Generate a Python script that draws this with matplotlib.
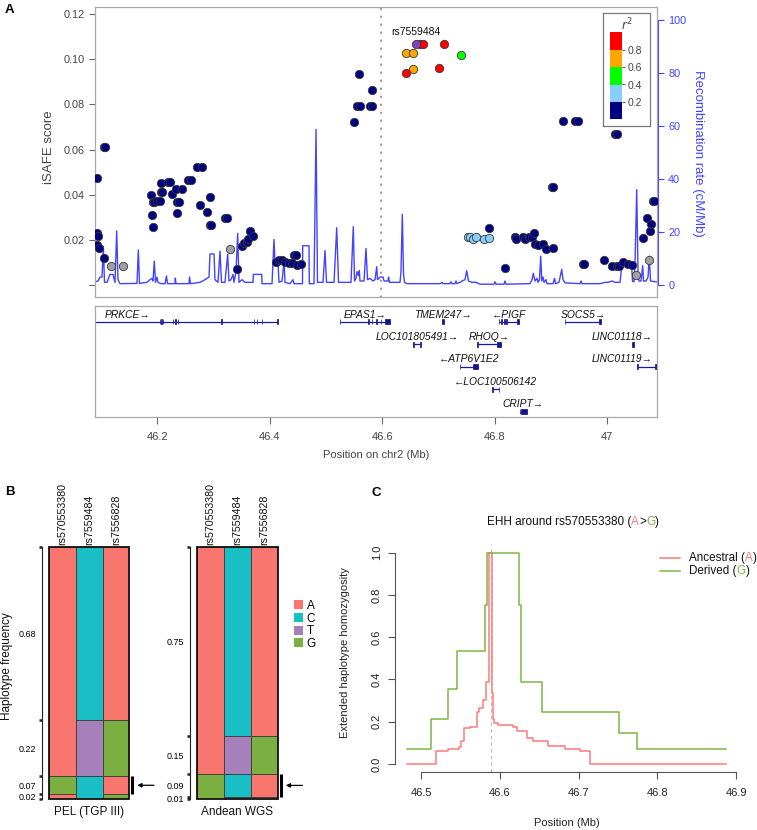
import numpy as np
import matplotlib
matplotlib.use("Agg")
import matplotlib.pyplot as plt
from matplotlib.patches import Rectangle
from matplotlib.lines import Line2D
from matplotlib.offsetbox import TextArea, HPacker, AnchoredOffsetbox

plt.rcParams["font.family"] = ["Liberation Sans", "DejaVu Sans"]

W, H = 757, 830

# ---------------- panel A data ----------------
# iSAFE scores by LD bin with the lead SNP (r^2)
pos_ld0 = [46.0929, 46.1052, 46.1060, 46.0929, 46.0947, 46.0929, 46.0959, 46.1052,
           46.1884, 46.1897, 46.1915, 46.1915, 46.1943, 46.1986, 46.2045, 46.2062, 46.2062, 46.2086,
           46.2192, 46.2223, 46.2264, 46.2324, 46.2431, 46.2352, 46.2383, 46.2352, 46.2538, 46.2596,
           46.2708, 46.2797, 46.2756, 46.2886, 46.2934, 46.2934, 46.2952, 46.3201, 46.3242, 46.3409,
           46.3498, 46.3539, 46.3587, 46.3605, 46.3646, 46.3705,
           46.4103, 46.4167, 46.4210, 46.4269, 46.4340, 46.4388, 46.4429, 46.4459, 46.4477, 46.4548,
           46.5502, 46.5545, 46.5603, 46.5586, 46.5781, 46.5812, 46.5812,
           46.7899, 46.8184, 46.8362, 46.8379, 46.8509, 46.8539, 46.8616, 46.8659, 46.8705, 46.8717,
           46.8776, 46.8854, 46.8913, 46.9043, 46.9025, 46.9043, 46.9210, 46.9429, 46.9488, 46.9566,
           46.9595, 46.9951, 47.0093, 47.0171, 47.0212, 47.0289, 47.0378, 47.0438, 47.0141, 47.0182,
           47.0645, 47.0705, 47.0776, 47.0764, 47.0812, 47.0835]
isafe_ld0 = [0.0475, 0.0610, 0.0610, 0.0232, 0.0217, 0.0177, 0.0163, 0.0118,
             0.0399, 0.0310, 0.0258, 0.0369, 0.0369, 0.0373, 0.0373, 0.0450, 0.0413, 0.0413,
             0.0456, 0.0456, 0.0402, 0.0424, 0.0424, 0.0369, 0.0369, 0.0320, 0.0465, 0.0465,
             0.0521, 0.0521, 0.0356, 0.0325, 0.0391, 0.0266, 0.0266, 0.0295, 0.0295, 0.0070,
             0.0174, 0.0185, 0.0192, 0.0202, 0.0240, 0.0218,
             0.0103, 0.0111, 0.0111, 0.0103, 0.0096, 0.0096, 0.0133, 0.0133, 0.0089, 0.0093,
             0.0723, 0.0794, 0.0794, 0.0933, 0.0794, 0.0794, 0.0862,
             0.0251, 0.0074, 0.0214, 0.0202, 0.0214, 0.0202, 0.0214, 0.0214, 0.0229, 0.0180,
             0.0176, 0.0180, 0.0158, 0.0163, 0.0434, 0.0434, 0.0728, 0.0728, 0.0728, 0.0093,
             0.0093, 0.0111, 0.0085, 0.0085, 0.0085, 0.0101, 0.0093, 0.0090, 0.0670, 0.0670,
             0.0207, 0.0298, 0.0269, 0.0239, 0.0372, 0.0372]
pos_ld1 = [46.7520, 46.7561, 46.7620, 46.7668, 46.7815, 46.7904]
isafe_ld1 = [0.0214, 0.0214, 0.0202, 0.0214, 0.0202, 0.0209]
pos_ld2 = [46.7395]
isafe_ld2 = [0.1019]
pos_ld3 = [46.6417, 46.6541, 46.6541]
isafe_ld3 = [0.1026, 0.1026, 0.0957]
pos_ld4 = [46.6671, 46.6719, 46.7098, 46.6417, 46.7015]
isafe_ld4 = [0.1066, 0.1066, 0.1066, 0.0940, 0.0962]
pos_na = [46.1173, 46.1392, 46.3290, 47.0515, 47.0751]
isafe_na = [0.0084, 0.0084, 0.0159, 0.0043, 0.0111]
lead_name = "rs7559484"
lead_pos = 46.6595
lead_isafe = 0.1066
marker_pos = 46.5977

ld_breaks = [0.2, 0.4, 0.6, 0.8]
ld_colors = ["#000080", "#87CEFA", "#00FF00", "#FFA500", "#FF0000"]

recomb_pos = [46.0888, 46.0941, 46.0977, 46.1013, 46.1036, 46.1057, 46.1102, 46.1155, 46.1208, 46.1244,
              46.1274, 46.1297, 46.1333, 46.1635, 46.1659, 46.1680, 46.1813, 46.1867, 46.1902, 46.1920,
              46.1943, 46.1965, 46.1991, 46.2009, 46.2062, 46.2134, 46.2160, 46.2178, 46.2312, 46.2317,
              46.2329, 46.2561, 46.2570, 46.2587, 46.2756, 46.2845, 46.2917, 46.2934, 46.3006, 46.3023,
              46.3077, 46.3112, 46.3139, 46.3201, 46.3249, 46.3272, 46.3308, 46.3344, 46.3361, 46.3397,
              46.3427, 46.3450, 46.3504, 46.3557, 46.3700, 46.3705, 46.3854, 46.3860, 46.4038, 46.4073,
              46.4091, 46.4144, 46.4162, 46.4216, 46.4251, 46.4269, 46.4358, 46.4411, 46.4429, 46.4580,
              46.4584, 46.4696, 46.4701, 46.4785, 46.4821, 46.4847, 46.4945, 46.4981, 46.5007, 46.5141,
              46.5189, 46.5221, 46.5443, 46.5484, 46.5506, 46.5532, 46.5550, 46.5577, 46.5591, 46.5603,
              46.5675, 46.5710, 46.5737, 46.5781, 46.5835, 46.5870, 46.5901, 46.5915, 46.5959, 46.6013,
              46.6031, 46.6102, 46.6111, 46.6128, 46.6315, 46.6333, 46.6356, 46.6378, 46.6395, 46.6440,
              46.7027, 46.7063, 46.7080, 46.7205, 46.7223, 46.7241, 46.7294, 46.7312, 46.7329, 46.7383,
              46.7418, 46.7472, 46.7502, 46.7534, 46.7596, 46.7668, 46.7739, 46.7988, 46.8006, 46.8023,
              46.8166, 46.8184, 46.8201, 46.8628, 46.8664, 46.8687, 46.8717, 46.8753, 46.8771, 46.8797,
              46.8819, 46.8838, 46.8860, 46.8878, 46.8913, 46.8931, 46.9038, 46.9064, 46.9082, 46.9144,
              46.9193, 46.9216, 46.9251, 46.9518, 46.9536, 46.9554, 46.9874, 46.9963, 47.0016, 47.0088,
              47.0141, 47.0230, 47.0260, 47.0438, 47.0452, 47.0479, 47.0497, 47.0527, 47.0550, 47.0568,
              47.0604, 47.0634, 47.0648, 47.0693, 47.0728, 47.0751, 47.0773, 47.0870, 47.0888]
recomb_rate = [1.2, 1.5, 3.0, 3.0, 14.5, 1.0, 1.0, 4.0, 4.0, 1.0,
               20.4, 2.0, 0.5, 0.6, 13.2, 0.6, 1.0, 2.0, 2.5, 1.5,
               9.0, 1.0, 3.0, 1.0, 0.5, 0.5, 3.4, 0.5, 0.5, 2.6,
               0.5, 0.5, 3.0, 0.5, 1.0, 2.0, 3.0, 11.7, 11.7, 2.0,
               1.0, 12.8, 1.0, 1.0, 11.6, 1.5, 2.0, 4.0, 1.0, 5.0,
               19.5, 1.0, 2.0, 1.0, 1.0, 4.0, 4.0, 0.5, 0.5, 17.2,
               8.0, 8.3, 1.0, 1.5, 8.8, 1.0, 0.5, 2.0, 0.5, 0.5,
               14.8, 14.8, 0.5, 0.5, 58.7, 1.0, 1.0, 13.0, 1.0, 1.0,
               21.6, 1.0, 1.0, 22.0, 1.5, 2.5, 5.0, 3.5, 5.4, 1.5,
               1.5, 13.8, 2.0, 2.5, 1.5, 2.0, 6.9, 2.0, 3.0, 3.0,
               1.5, 1.5, 3.0, 1.0, 1.0, 5.0, 26.7, 4.0, 1.0, 0.5,
               0.5, 1.0, 0.5, 0.5, 1.2, 0.5, 0.5, 1.5, 0.5, 1.0,
               1.5, 2.0, 5.4, 1.5, 1.0, 1.0, 0.3, 0.3, 1.2, 0.3,
               0.3, 1.5, 0.3, 0.5, 2.0, 4.4, 1.5, 2.5, 1.0, 2.0,
               10.9, 1.5, 3.0, 1.0, 2.0, 0.5, 0.5, 2.5, 0.5, 1.0,
               5.9, 2.0, 0.8, 0.5, 1.5, 0.5, 0.5, 1.0, 1.0, 1.5,
               1.0, 1.0, 6.9, 6.9, 1.5, 1.2, 8.0, 36.0, 5.0, 1.5,
               1.5, 7.3, 1.5, 1.5, 3.0, 10.9, 1.5, 1.2, 1.2]

# gene track
gene_names = ["PRKCE", "EPAS1", "TMEM247", "PIGF", "SOCS5", "LOC101805491", "RHOQ", "LINC01118",
              "ATP6V1E2", "LINC01119", "LOC100506142", "CRIPT"]
gene_start = [45.879, 46.5248, 46.7068, 46.8077, 46.9251, 46.6552, 46.7691, 47.0449,
              46.7383, 47.0538, 46.7958, 46.8451]
gene_end = [46.4150, 46.6137, 46.7104, 46.8433, 46.9892, 46.6684, 46.8107, 47.0484,
            46.7698, 47.0950, 46.8077, 46.8570]
gene_strand = ["+", "+", "+", "-", "+", "+", "+", "+", "-", "+", "-", "+"]
gene_row = [0, 0, 0, 0, 0, 1, 1, 1, 2, 2, 3, 4]
gene_exons = [
    [(46.2040, 46.2050), (46.2066, 46.2076), (46.2093, 46.2103), (46.2271, 46.2281), (46.2315, 46.2325),
     (46.2360, 46.2370), (46.3138, 46.3148), (46.3712, 46.3722), (46.3766, 46.3776), (46.3855, 46.3865),
     (46.4125, 46.4150)],
    [(46.5245, 46.5253), (46.5746, 46.5756), (46.5812, 46.5822), (46.5896, 46.5906), (46.5972, 46.5982),
     (46.6040, 46.6137)],
    [(46.7068, 46.7104)],
    [(46.8077, 46.8085), (46.8121, 46.8129), (46.8167, 46.8175), (46.8210, 46.8218), (46.8392, 46.8433)],
    [(46.9251, 46.9259), (46.9857, 46.9892)],
    [(46.6552, 46.6560), (46.6676, 46.6684)],
    [(46.7691, 46.7699), (46.8036, 46.8107)],
    [(47.0449, 47.0484)],
    [(46.7383, 46.7391), (46.7620, 46.7698)],
    [(47.0538, 47.0546), (47.0850, 47.0890)],
    [(46.7958, 46.7966), (46.8069, 46.8077)],
    [(46.8451, 46.8459), (46.8475, 46.8570)],
]

# ---------------- panel B data ----------------
hap_snps = ["rs570553380", "rs7559484", "rs7556828"]
pel_freq = [0.68, 0.22, 0.07, 0.02]
pel_haps = ["ACA", "ATG", "GCA", "ACG"]
andean_freq = [0.75, 0.15, 0.09, 0.01]
andean_haps = ["ACA", "ATG", "GCA", "GTG"]
alleles = ["A", "C", "T", "G"]
allele_colors = {"A": "#F8766D", "C": "#19BFC4", "T": "#A680BB", "G": "#7CAF42"}

# ---------------- panel C data ----------------
core_pos = 46.5882
anc_pos = [46.4822, 46.5183, 46.5343, 46.5479, 46.5501, 46.5543, 46.5619, 46.5704, 46.5733, 46.5788,
           46.5822, 46.5864, 46.5895, 46.5915, 46.5930, 46.5979, 46.6166, 46.6213, 46.6340, 46.6420,
           46.6610, 46.6826, 46.7017, 46.7144, 46.8873]
anc_ehh = [0.000, 0.063, 0.070, 0.082, 0.109, 0.169, 0.177, 0.248, 0.265, 0.303,
           0.390, 1.000, 0.335, 0.213, 0.195, 0.185, 0.175, 0.156, 0.123, 0.109,
           0.085, 0.071, 0.063, 0.000, 0.000]
der_pos = [46.4822, 46.5123, 46.5343, 46.5454, 46.5810, 46.5831, 46.6246, 46.6271, 46.6538, 46.7517,
           46.7738, 46.8873]
der_ehh = [0.070, 0.213, 0.357, 0.535, 0.750, 1.000, 0.750, 0.390, 0.248, 0.145, 0.071, 0.071]

BOX_GREY = "#A8A8A8"
TXT_GREY = "#444444"
REC_BLUE = "#4343FF"
ANC_RED = "#FF7B7B"
DER_GREEN = "#7DB548"


def fig_box(x0, y0, x1, y1):
    # pixel box with top-left origin -> [left, bottom, width, height] in figure fraction
    return [x0 / W, 1 - y1 / H, (x1 - x0) / W, (y1 - y0) / H]


def fx(x):
    return x / W


def fy(y):
    return 1 - y / H


def color_text(fig, x, y, parts, size, loc):
    areas = [TextArea(s, textprops=dict(color=c, size=size)) for s, c in parts]
    box = HPacker(children=areas, align="baseline", pad=0, sep=0)
    anchored = AnchoredOffsetbox(loc=loc, child=box, pad=0, borderpad=0, frameon=False,
                                 bbox_to_anchor=(fx(x), fy(y)), bbox_transform=fig.transFigure)
    fig.add_artist(anchored)


fig = plt.figure(figsize=(W / 100, H / 100), dpi=100)

# ================= panel A: iSAFE + recombination =================
xlim_a = (46.0888, 47.0888)
ax_rec = fig.add_axes(fig_box(95, 7, 657, 297))
ax_sc = ax_rec.twinx()

ax_rec.plot(recomb_pos, recomb_rate, color=REC_BLUE, lw=1.0)
ax_rec.set_xlim(*xlim_a)
ax_rec.set_ylim(-4.53, 104.9)
ax_rec.yaxis.tick_right()
ax_rec.set_yticks([0, 20, 40, 60, 80, 100])
ax_rec.set_xticks([])
ax_rec.tick_params(axis="y", colors=REC_BLUE, length=4.3, width=0.8, labelsize=7.8, pad=3)
for side in ["top", "bottom", "left"]:
    ax_rec.spines[side].set_visible(False)
ax_rec.spines["right"].set_color(REC_BLUE)
ax_rec.spines["right"].set_bounds(0, 100)
ax_rec.spines["right"].set_position(("outward", 0.8))

ax_sc.yaxis.tick_left()
ax_sc.set_xlim(*xlim_a)
ax_sc.set_ylim(-0.00531, 0.12312)
ax_sc.set_yticks([0, 0.02, 0.04, 0.06, 0.08, 0.10, 0.12])
ax_sc.set_yticklabels(["", "0.02", "0.04", "0.06", "0.08", "0.10", "0.12"])
ax_sc.tick_params(axis="y", colors="#666666", labelcolor=TXT_GREY, length=4.3, width=0.8,
                  labelsize=7.8, pad=3)
for side in ax_sc.spines:
    ax_sc.spines[side].set_color(BOX_GREY)
    ax_sc.spines[side].set_linewidth(0.9)
ax_sc.axvline(marker_pos, color="#9A9A9A", lw=1.6, linestyle=(0, (0.2, 3.4)),
              dash_capstyle="round", zorder=1)

sc_kw = dict(s=36, edgecolors="#3A3A3A", linewidths=0.6, zorder=3)
ax_sc.scatter(pos_na, isafe_na, color="#A0A0A0", **sc_kw)
ax_sc.scatter(pos_ld0, isafe_ld0, color=ld_colors[0], **sc_kw)
ax_sc.scatter(pos_ld1, isafe_ld1, color=ld_colors[1], **sc_kw)
ax_sc.scatter(pos_ld2, isafe_ld2, color=ld_colors[2], **sc_kw)
ax_sc.scatter(pos_ld3, isafe_ld3, color=ld_colors[3], **sc_kw)
ax_sc.scatter(pos_ld4, isafe_ld4, color=ld_colors[4], **sc_kw)
ax_sc.scatter([lead_pos], [lead_isafe], color="#8040C0", **sc_kw)
ax_sc.annotate(lead_name, (lead_pos, lead_isafe), xytext=(0, 5.5), textcoords="offset points",
               ha="center", va="bottom", fontsize=7.5, color="#111111")

fig.text(fx(49), fy(147), "iSAFE score", rotation=90, ha="center", va="center",
         fontsize=9.5, color=TXT_GREY)
fig.text(fx(698), fy(153), "Recombination rate (cM/Mb)", rotation=270, ha="center",
         va="center", fontsize=9.5, color=REC_BLUE)

# r^2 legend
ax_leg = fig.add_axes(fig_box(603.3, 13.3, 650, 125.7))
ax_leg.set_xticks([])
ax_leg.set_yticks([])
for side in ax_leg.spines:
    ax_leg.spines[side].set_color("#7A7A7A")
    ax_leg.spines[side].set_linewidth(0.9)
ax_leg.text(0.5, 0.895, "$r^2$", transform=ax_leg.transAxes, ha="center", va="center",
            fontsize=8.5, color=TXT_GREY)
ax_cb = fig.add_axes(fig_box(610, 32.3, 621.7, 119.3))
edges = [0.0] + ld_breaks + [1.0]
for k, col in enumerate(ld_colors):
    ax_cb.bar(0, edges[k + 1] - edges[k], bottom=edges[k], width=1, align="edge", color=col,
              edgecolor="none")
ax_cb.set_xlim(0, 1)
ax_cb.set_ylim(0, 1)
ax_cb.set_xticks([])
ax_cb.yaxis.tick_right()
ax_cb.set_yticks(ld_breaks)
ax_cb.set_yticklabels([f"{b:.1f}" for b in ld_breaks])
ax_cb.tick_params(axis="y", length=2.5, width=0.7, colors="#555555", labelcolor=TXT_GREY,
                  labelsize=7.5, pad=1.5)
for side in ax_cb.spines:
    ax_cb.spines[side].set_visible(False)

# gene track
row_h = 0.22
ax_gene = fig.add_axes(fig_box(95, 306, 657, 417))
ax_gene.set_xlim(*xlim_a)
ax_gene.set_ylim(-4.236, 0.698)
ax_gene.set_yticks([])
ax_gene.set_xticks([46.2, 46.4, 46.6, 46.8, 47.0])
ax_gene.set_xticklabels(["46.2", "46.4", "46.6", "46.8", "47"])
ax_gene.tick_params(axis="x", length=5, width=0.8, colors="#666666", labelcolor=TXT_GREY,
                    labelsize=8, pad=5.5)
for side in ax_gene.spines:
    ax_gene.spines[side].set_color(BOX_GREY)
    ax_gene.spines[side].set_linewidth(0.9)

gene_labels = []
for name, s, e, strand, row, exons in zip(gene_names, gene_start, gene_end, gene_strand,
                                          gene_row, gene_exons):
    y = -row
    ax_gene.plot([s, e], [y, y], color="#1A1AA0", lw=0.9, solid_capstyle="butt")
    ax_gene.broken_barh([(a, b - a) for a, b in exons], (y - row_h / 2, row_h),
                        facecolors="#10108A", edgecolors="#10108A", linewidth=0.5)
    label = f"{name}\u2192" if strand == "+" else f"\u2190{name}"
    t = ax_gene.text((s + e) / 2, y + 0.32, label, ha="center", va="center", fontsize=7.4,
                     style="italic", color="#111111")
    gene_labels.append(t)

fig.canvas.draw()
renderer = fig.canvas.get_renderer()
gbox = ax_gene.get_window_extent(renderer)
for t in gene_labels:
    bb = t.get_window_extent(renderer)
    shift = 0.0
    if bb.x1 > gbox.x1 - 4:
        shift = (gbox.x1 - 4) - bb.x1
    elif bb.x0 < gbox.x0 + 4:
        shift = (gbox.x0 + 4) - bb.x0
    if shift:
        cx, cy = ax_gene.transData.transform(t.get_position())
        t.set_position(ax_gene.transData.inverted().transform((cx + shift, cy)))

fig.text(fx(376), fy(455), "Position on chr2 (Mb)", ha="center", va="center", fontsize=8,
         color=TXT_GREY)

# ================= panel B: haplotype frequencies =================


def draw_haplotypes(ax, freqs, haps, title):
    total = sum(freqs)
    starts = np.concatenate([[0.0], np.cumsum(freqs)[:-1]])
    for j in range(len(hap_snps)):
        k = 0
        while k < len(haps):
            allele = haps[k][j]
            m = k
            while m + 1 < len(haps) and haps[m + 1][j] == allele:
                m += 1
            ax.bar(j, sum(freqs[k:m + 1]), bottom=starts[k], width=1, align="edge",
                   color=allele_colors[allele], edgecolor="#3A3A3A", linewidth=0.6)
            k = m + 1
        ax.annotate(hap_snps[j], (j + 0.5, 0), xytext=(0, 1.5), textcoords="offset points",
                    rotation=90, ha="center", va="bottom", fontsize=7.7, color="#111111")
    ax.set_xlim(0, len(hap_snps))
    ax.set_ylim(total, 0)
    ax.set_xticks([])
    bounds = list(starts) + [total]
    mids = [st + f / 2 for st, f in zip(starts, freqs)]
    ax.set_yticks(bounds)
    ax.set_yticklabels([])
    ax.set_yticks(mids, minor=True)
    ax.set_yticklabels([f"{f:.2f}" for f in freqs], minor=True)
    ax.tick_params(axis="y", which="major", length=2.2, width=1.8, colors="#222222")
    ax.tick_params(axis="y", which="minor", length=0, labelsize=6.5, pad=4.2)
    for side in ["top", "right", "bottom"]:
        ax.spines[side].set_visible(False)
    ax.spines["left"].set_position(("outward", 5.2))
    ax.spines["left"].set_color("#222222")
    ax.spines["left"].set_bounds(0, total)
    ax.add_patch(Rectangle((0, 0), 1, 1, transform=ax.transAxes, fill=False, lw=1.3,
                           edgecolor="#111111", clip_on=False, zorder=5))
    ax.annotate(title, (len(hap_snps) / 2, total), xytext=(0, -4.5), textcoords="offset points",
                ha="center", va="top", fontsize=8.5, color="#111111", annotation_clip=False)
    # bracket and arrow for the third haplotype
    y0, y1 = starts[2], starts[2] + freqs[2]
    ax.plot([3.11, 3.11], [y0, y1], color="black", lw=2.2, clip_on=False,
            solid_capstyle="butt")
    ax.annotate("", xy=(3.3, (y0 + y1) / 2), xytext=(3.92, (y0 + y1) / 2),
                arrowprops=dict(arrowstyle="-|>", color="black", lw=0.9, mutation_scale=6,
                                shrinkA=0, shrinkB=0), annotation_clip=False)


ax_pel = fig.add_axes(fig_box(49, 546.7, 129.3, 799.3))
draw_haplotypes(ax_pel, pel_freq, pel_haps, "PEL (TGP III)")
ax_and = fig.add_axes(fig_box(197, 546.7, 277.7, 799.3))
draw_haplotypes(ax_and, andean_freq, andean_haps, "Andean WGS")

fig.text(fx(7), fy(666), "Haplotype frequency", rotation=90, ha="center", va="center",
         fontsize=8.5, color="#111111")

handles = [Rectangle((0, 0), 1, 1, facecolor=allele_colors[a], edgecolor="none") for a in alleles]
fig.legend(handles, alleles, loc="upper left", bbox_to_anchor=(fx(293.5), fy(600)),
           bbox_transform=fig.transFigure, frameon=False, fontsize=8.5, handlelength=0.78,
           handleheight=0.78, handletextpad=0.35, labelspacing=0.05, borderpad=0,
           borderaxespad=0)

# ================= panel C: EHH =================
ax_c = fig.add_axes(fig_box(394.6, 544.2, 738.3, 772.4))
ax_c.axvline(core_pos, color="#BBBBBB", lw=0.8, linestyle=(0, (3, 3)), zorder=1)
ax_c.step(anc_pos, anc_ehh, where="post", color=ANC_RED, lw=1.1, zorder=2)
ax_c.step(der_pos, der_ehh, where="post", color=DER_GREEN, lw=1.1, zorder=3)
ax_c.set_xlim(46.4661, 46.9029)
ax_c.set_ylim(-0.04, 1.04)
ax_c.set_xticks([46.5, 46.6, 46.7, 46.8, 46.9])
ax_c.set_xticklabels(["46.5", "46.6", "46.7", "46.8", "46.9"])
ax_c.set_yticks([0, 0.2, 0.4, 0.6, 0.8, 1.0])
ax_c.set_yticklabels(["0.0", "0.2", "0.4", "0.6", "0.8", "1.0"], rotation=90, va="center")
ax_c.tick_params(axis="both", length=5, width=0.8, colors="#555555", labelcolor="#222222",
                 labelsize=8)
ax_c.tick_params(axis="x", pad=6)
ax_c.tick_params(axis="y", pad=4)
for side in ["top", "right"]:
    ax_c.spines[side].set_visible(False)
for side in ["left", "bottom"]:
    ax_c.spines[side].set_color("#555555")
    ax_c.spines[side].set_linewidth(0.8)
ax_c.spines["left"].set_bounds(0, 1)
ax_c.spines["bottom"].set_bounds(46.5, 46.9)

fig.text(fx(345), fy(653), "Extended haplotype homozygosity", rotation=90, ha="center",
         va="center", fontsize=8, color="#222222")
fig.text(fx(566.5), fy(823), "Position (Mb)", ha="center", va="center", fontsize=8,
         color="#222222")
color_text(fig, 573, 522, [("EHH around rs570553380 (", "#111111"), ("A", ANC_RED),
                           (">", "#111111"), ("G", DER_GREEN), (")", "#111111")], 8.5, "center")
fig.add_artist(Line2D([fx(660), fx(680)], [fy(558.3)] * 2, color=ANC_RED, lw=1.1,
                      transform=fig.transFigure))
fig.add_artist(Line2D([fx(660), fx(680)], [fy(570.7)] * 2, color=DER_GREEN, lw=1.1,
                      transform=fig.transFigure))
color_text(fig, 689.3, 558.3, [("Ancestral (", "#111111"), ("A", ANC_RED), (")", "#111111")],
           8.4, "center left")
color_text(fig, 689.3, 570.7, [("Derived (", "#111111"), ("G", DER_GREEN), (")", "#111111")],
           8.4, "center left")

# panel letters
for letter, x, y in [("A", 5, 10), ("B", 5, 492), ("C", 372, 493)]:
    fig.text(fx(x), fy(y), letter, ha="left", va="center", fontsize=9.5, weight="bold")

fig.savefig("out.png", dpi=100)
